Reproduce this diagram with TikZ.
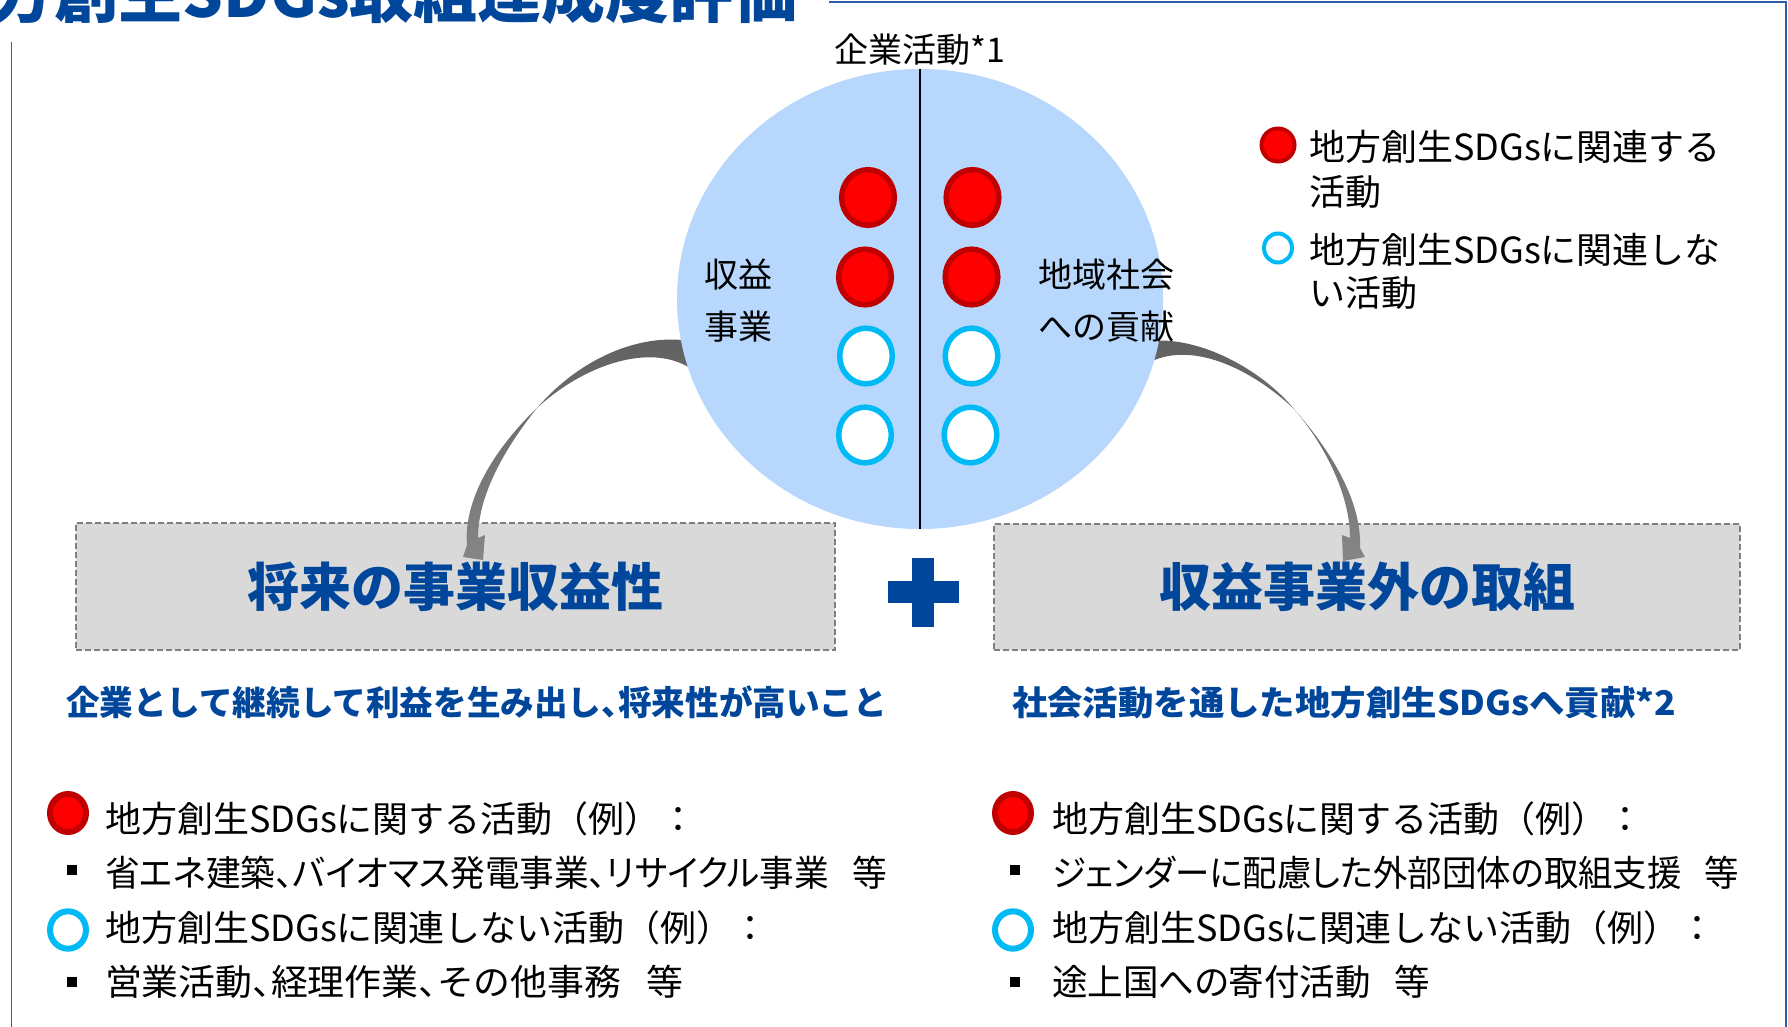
\documentclass[tikz,border=0pt]{standalone}
\usepackage{graphicx}
\usepackage{fontspec}
\setmainfont{Noto Sans CJK JP}
\newfontfamily\jpp[RawFeature=+palt]{Noto Sans CJK JP}
\newcommand{\fitw}[2]{\resizebox{#1}{\height}{#2}}
\newcommand{\hc}{{\jpp 、}}
\definecolor{ttlblue}{HTML}{00469B}
\definecolor{frameblue}{HTML}{2F5EA8}
\definecolor{circfill}{HTML}{B7D8FC}
\definecolor{dotred}{HTML}{FF0000}
\definecolor{dotrim}{HTML}{C00000}
\definecolor{ringblue}{HTML}{00BAF5}
\definecolor{boxfill}{HTML}{D9D9D9}
\definecolor{boxline}{HTML}{7F7F7F}
\definecolor{arrdark}{HTML}{606060}
\definecolor{arrlight}{HTML}{868686}
\begin{document}
\begin{tikzpicture}[x=1pt,y=-1pt,
  every node/.style={inner sep=0pt,outer sep=0pt},
  frameline/.style={draw=frameblue,line width=1.8pt},
  boxstyle/.style={fill=boxfill,draw=boxline,line width=1.8pt,dash pattern=on 6pt off 3pt},
  reddot/.style={fill=dotred,draw=dotrim},
  ringdot/.style={fill=white,draw=ringblue},
  fs34/.style={font=\fontsize{34}{40}\selectfont},
  fs36/.style={font=\fontsize{36}{43}\selectfont},
  lbl/.style={anchor=base west,fs36},
  plbl/.style={anchor=base west,font=\fontsize{36}{43}\jpp},
  boxtitle/.style={anchor=base,text=ttlblue,font=\fontsize{52}{60}\selectfont\bfseries},
  subttl/.style={anchor=base west,text=ttlblue,font=\fontsize{34}{40}\selectfont\bfseries},
  arrowshade/.style={top color=arrdark,bottom color=arrlight}]
\useasboundingbox (0,0) rectangle (1788,1027);
\fill[white] (0,0) rectangle (1788,1027);

% title (cropped at the top of the slide)
\node[anchor=base east,text=ttlblue,font=\fontsize{64}{70}\selectfont\bfseries] (title) at (798,18) {地方創生SDGs取組達成度評価};

% frame lines
\draw[frameline] (829,2) -- (1786,2) -- (1786,1027);
\draw[frameline] (11.5,42) -- (11.5,1027);

% boxes
\node[boxstyle,minimum width=759pt,minimum height=127pt] (lbox) at (455.5,586.5) {};
\node[boxstyle,minimum width=746pt,minimum height=126pt] (rbox) at (1367,587) {};
\node[boxtitle] (ltitle) at (455.5,606) {将来の事業収益性};
\node[boxtitle] (rtitle) at (1367,606) {収益事業外の取組};

% plus sign
\fill[ttlblue] (888,581) rectangle (959,603);
\fill[ttlblue] (912,558) rectangle (934,627);

% curved arrows
\shade[arrowshade] (690,341) .. controls (640,333) and (580,358) .. (537,408)
  .. controls (495,448) and (463,500) .. (467,545) -- (463,557) -- (483,560) -- (485,535) -- (478,538)
  .. controls (478,495) and (505,448) .. (537,408)
  .. controls (585,364) and (650,343) .. (690,368) -- cycle;
\shade[arrowshade] (1150,341) .. controls (1200,336) and (1262,370) .. (1294,409)
  .. controls (1330,450) and (1362,500) .. (1360,548) -- (1365,557) -- (1343,561) -- (1342,535) -- (1350,538)
  .. controls (1350,495) and (1325,445) .. (1294,409)
  .. controls (1255,372) and (1195,340) .. (1150,362) -- cycle;

% big circle
\fill[circfill] (920,299) ellipse [x radius=243,y radius=230];
\coordinate (ctop) at (920,69);
\coordinate (cbot) at (920,529);
\draw[black,line width=1.5pt] (ctop) -- (cbot);

% dots in circle
\foreach \x/\y in {868/197.5,865/277,972.5/197.5,971.5/277}
  \draw[reddot,line width=5.5pt] (\x,\y) ellipse [x radius=26.3,y radius=27.8];
\foreach \x/\y in {866/356,865/435,971.5/356,970.5/435}
  \draw[ringdot,line width=5.5pt] (\x,\y) ellipse [x radius=26.3,y radius=27.8];

% circle labels
\node[anchor=base,fs34] (act) at (920,63) {企業活動*1};
\node[anchor=base west,fs34] (c1) at (704,287) {収益};
\node[anchor=base west,fs34] (c2) at (704,339) {事業};
\node[anchor=base west,fs34] (c3) at (1038,287) {地域社会};
\node[anchor=base west,fs34] (c4) at (1038,339) {への貢献};

% legend
\draw[reddot,line width=4pt] (1278,145) ellipse [x radius=16.5,y radius=16.5];
\draw[ringdot,line width=4pt] (1278,248) ellipse [x radius=14,y radius=14.5];
\node[lbl] (lg1) at (1309,160.5) {地方創生SDGsに関連する};
\node[lbl] (lg2) at (1309,205.5) {活動};
\node[lbl] (lg3) at (1309,263.5) {地方創生SDGsに関連しな};
\node[lbl] (lg4) at (1309,306.5) {い活動};

% subtitles
\node[subttl] (s1) at (66,715) {\fitw{821pt}{企業として継続して利益を生み出し\hc 将来性が高いこと}};
\node[subttl] (s2) at (1012,715) {\fitw{664pt}{社会活動を通した地方創生SDGsへ貢献*2}};

% lists
\foreach \x in {68,1013}{
  \draw[reddot,line width=6pt] (\x,813) ellipse [x radius=18,y radius=19];
  \draw[ringdot,line width=6pt] (\x,930) ellipse [x radius=18,y radius=18.7];
}
\foreach \x in {72,1015}{
  \fill[black] (\x-5,865) rectangle (\x+5,875);
  \fill[black] (\x-5,977) rectangle (\x+5,987);
}
\node[lbl] (l1) at (105,832) {地方創生SDGsに関する活動（例）：};
\node[plbl] (l2) at (105,886) {\fitw{782pt}{省エネ建築、バイオマス発電事業、リサイクル事業\hspace{24pt}等}};
\node[lbl] (l3) at (105,941) {地方創生SDGsに関連しない活動（例）：};
\node[lbl] (l4) at (105,995) {\fitw{578pt}{営業活動\hc 経理作業\hc その他事務\hspace{24pt}等}};
\node[lbl] (r1) at (1052,832) {地方創生SDGsに関する活動（例）：};
\node[plbl] (r2) at (1052,886) {\fitw{687pt}{ジェンダーに配慮した外部団体の取組支援\hspace{24pt}等}};
\node[lbl] (r3) at (1052,941) {地方創生SDGsに関連しない活動（例）：};
\node[plbl] (r4) at (1052,995) {\fitw{378pt}{途上国への寄付活動\hspace{24pt}等}};
\end{tikzpicture}
\end{document}
